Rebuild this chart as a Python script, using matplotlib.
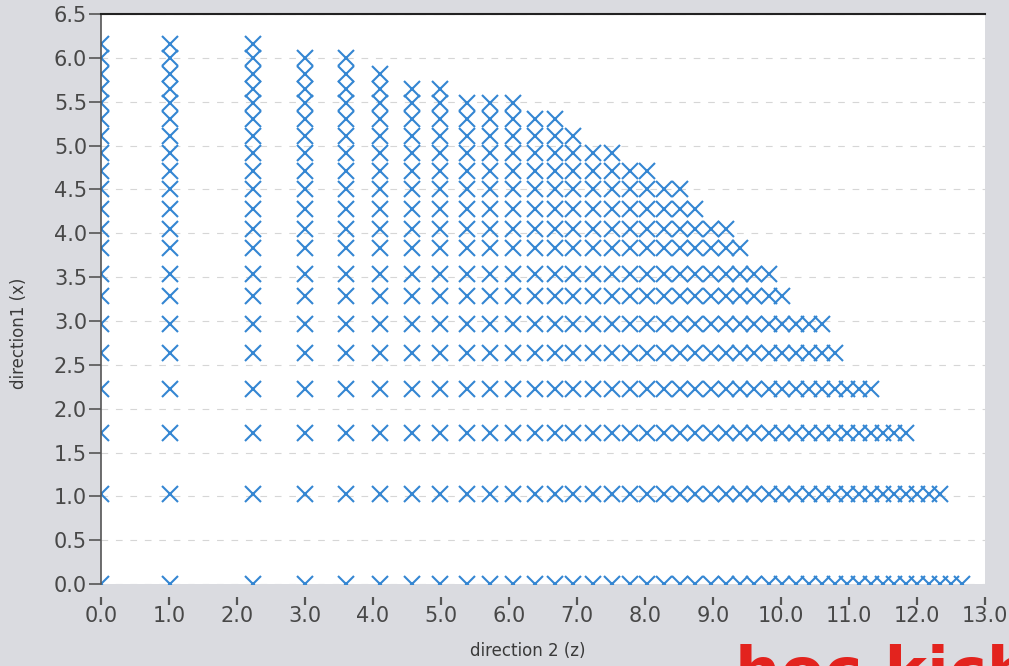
import matplotlib
matplotlib.use("Agg")
import matplotlib.pyplot as plt

# mode positions along direction 1 (x), one per row of markers
row_x = [0.0, 1.03, 1.72, 2.22, 2.63, 2.96, 3.28, 3.54, 3.83, 4.05, 4.28,
         4.50, 4.71, 4.92, 5.11, 5.30, 5.48, 5.65, 5.82, 6.00, 6.16]

# mode positions along direction 2 (z), one per column of markers
col_z = [0.0, 1.02, 2.24, 3.0, 3.6, 4.11, 4.57, 4.99, 5.38, 5.72, 6.06,
         6.38, 6.68, 6.95, 7.24, 7.51, 7.78, 8.03, 8.28, 8.51, 8.74, 8.97,
         9.19, 9.40, 9.61, 9.82, 10.02, 10.22, 10.41, 10.60, 10.79, 10.97,
         11.15, 11.33, 11.50, 11.67, 11.84, 12.01, 12.18, 12.34, 12.50, 12.66]

# how many columns each row reaches
row_counts = [42, 40, 37, 34, 31, 30, 27, 26, 24, 23, 21,
              20, 18, 16, 14, 13, 11, 8, 6, 5, 3]

zs, xs = [], []
for x, n in zip(row_x, row_counts):
    zs += col_z[:n]
    xs += [x] * n

fig = plt.figure(figsize=(10.09, 6.66), dpi=100, facecolor="#dadbe0")
ax = fig.add_axes([0.100, 0.123, 0.876, 0.856])
ax.set_facecolor("white")

ax.plot(zs, xs, linestyle="none", marker="x", markersize=11,
        markeredgewidth=1.5, color="#3486d2")

ax.set_xlim(0, 13)
ax.set_ylim(0, 6.5)
ax.set_xticks([i for i in range(14)])
ax.set_xticklabels(["%.1f" % i for i in range(14)])
yt = [i * 0.5 for i in range(14)]
ax.set_yticks(yt)
ax.set_yticklabels(["%.1f" % v for v in yt])

ax.yaxis.grid(True, linestyle=(0, (6, 7)), color="#d6d6d6", linewidth=0.8)
ax.set_axisbelow(True)

ax.spines["right"].set_visible(False)
ax.spines["bottom"].set_position(("outward", 9))
ax.spines["bottom"].set_visible(False)
ax.spines["top"].set_color("#222222")
ax.spines["top"].set_linewidth(1.5)
ax.spines["left"].set_color("#555555")
ax.spines["left"].set_linewidth(1.2)

ax.tick_params(axis="y", direction="out", length=9, width=1.2,
               color="#555555", labelsize=15, labelcolor="#484848", pad=1)
ax.tick_params(axis="x", direction="out", length=6, width=1.6,
               color="#555555", labelsize=15, labelcolor="#484848", pad=1)

ax.set_xlabel("direction 2 (z)", fontsize=12, color="#3a3a3a")
ax.xaxis.set_label_coords(0.483, -0.102)
ax.set_ylabel("direction1 (x)", fontsize=12, color="#3a3a3a")
ax.yaxis.set_label_coords(-0.082, 0.44)

# handwritten note in the corner
fig.text(0.728, -0.04, "hoc kich", color="#e3231e", fontsize=46,
         fontweight="bold")

fig.savefig("out.png", dpi=100, facecolor=fig.get_facecolor())
